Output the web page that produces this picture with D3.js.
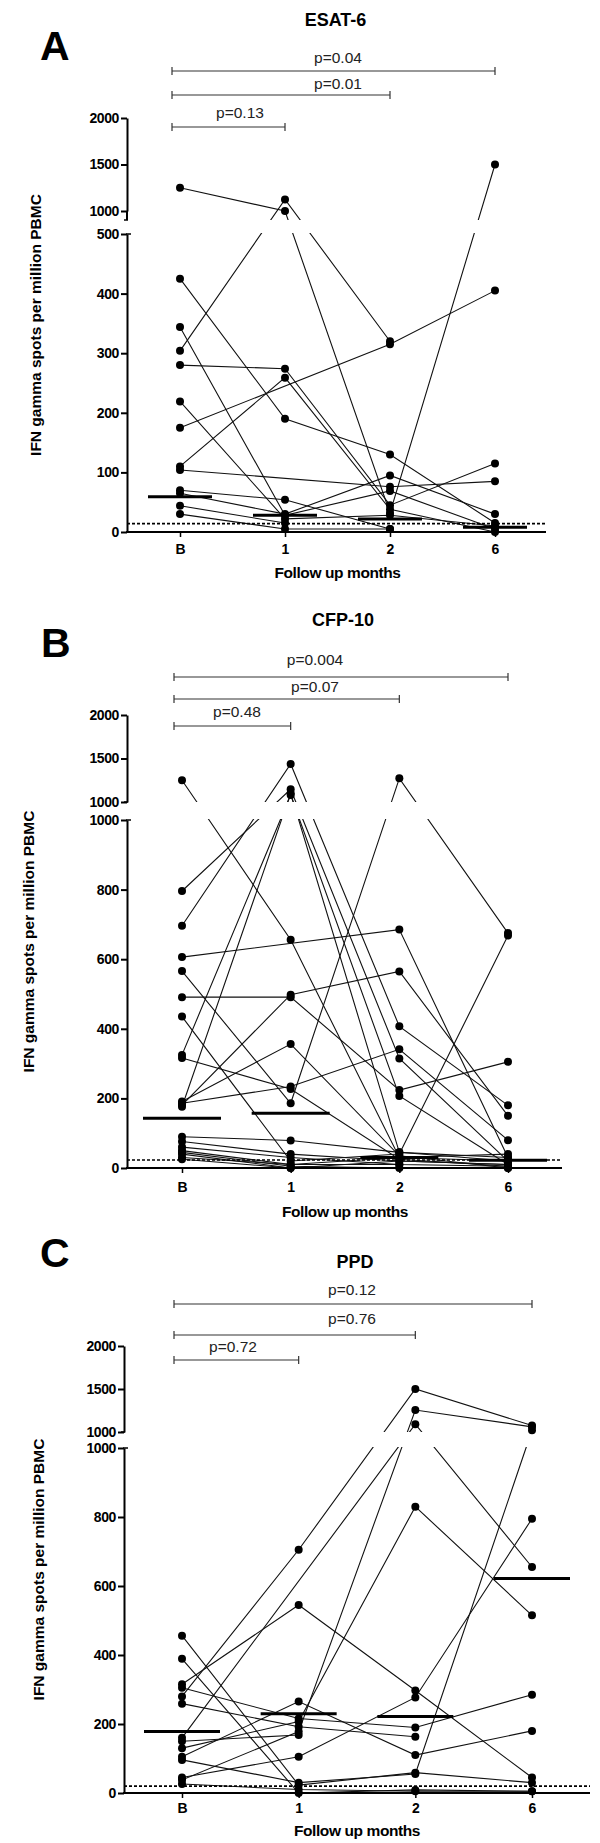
<!DOCTYPE html>
<html>
<head>
<meta charset="utf-8">
<script src="https://cdn.jsdelivr.net/npm/d3@7"></script>
<style>
body { margin: 0; background: #fff; }
svg text { font-family: "Liberation Sans", Arial, sans-serif; }
</style>
</head>
<body>
<svg id="fig" width="600" height="1843"></svg>
<script>
var months = ["B", "1", "2", "6"];
var topTicks = [1000, 1500, 2000];

// ESAT-6 : one row per subject, spots at B, 1, 2, 6 months (null = not done)
var esatRows = [
    [1250, 1000, 32, 1500],
    [304, 1125, 320, null],
    [425, 190, 130, 15],
    [344, 28, 69, 5],
    [280, 274, 45, 115],
    [219, 22, 28, 10],
    [175, null, 315, 405],
    [110, 259, 38, 0],
    [104, null, 76, 85],
    [70, 54, 5, null],
    [65, 30, 95, 30],
    [44, 15, null, null],
    [30, 5, 5, null]
];
var esatMedians = [59, 28, 22, 8];
var esatCutoff = 14;
var esatLowTicks = [0, 100, 200, 300, 400, 500];
var esatP = ["p=0.13", "p=0.01", "p=0.04"];

// CFP-10
var cfpRows = [
    [1250, 656, 30, 40],
    [796, 1146, 315, 20],
    [696, 1437, 407, 180],
    [606, null, 685, 30],
    [566, 186, 1272, 675],
    [491, 491, 224, 305],
    [435, 20, 40, 668],
    [325, 1080, 207, 10],
    [316, 227, 25, 5],
    [191, 356, 35, 0],
    [186, 234, 341, 80],
    [181, 498, 565, 150],
    [176, 1100, 45, 20],
    [90, 79, 45, 30],
    [76, 40, 20, 10],
    [60, 30, 10, 5],
    [50, 10, 30, 20],
    [45, 5, 0, 0],
    [40, 0, 20, 10],
    [30, 10, 10, null],
    [25, 0, null, null]
];
var cfpMedians = [143, 157, 30, 22];
var cfpCutoff = 23;
var cfpLowTicks = [0, 200, 400, 600, 800, 1000];
var cfpP = ["p=0.48", "p=0.07", "p=0.004"];

// PPD
var ppdRows = [
    [280, 705, 1500, 1075],
    [160, null, 1090, 655],
    [315, 545, 297, 45],
    [38, 178, 1256, 1060],
    [130, 207, 830, 515],
    [105, 265, 110, 180],
    [456, 23, 59, 30],
    [389, 0, 9, 5],
    [305, 216, 190, 285],
    [259, 192, 163, null],
    [150, 168, null, null],
    [96, 30, 55, 1020],
    [45, 105, 277, 795],
    [26, 10, 5, 5]
];
var ppdMedians = [178, 230, 222, 622];
var ppdCutoff = 20;
var ppdLowTicks = [0, 200, 400, 600, 800, 1000];
var ppdP = ["p=0.72", "p=0.76", "p=0.12"];

var panels = [
    {letter: "A", title: "ESAT-6", rows: esatRows, medians: esatMedians, cutoff: esatCutoff,
        lowTicks: esatLowTicks, pvals: esatP,
        axisX: 127, axisEnd: 546, catRange: [180, 495], y0: 532, yLowTop: 234,
        yTop1000: 211, yTop2000: 118, gapTop: 220, letterPos: [40, 60], titleY: 26,
        bracketY: [127, 95, 71], pTextY: [118, 89, 63], pTextX: [240, 338, 338],
        tickLabelY: 554, xTitleY: 578, yTitleX: 36, medHalf: 32},
    {letter: "B", title: "CFP-10", rows: cfpRows, medians: cfpMedians, cutoff: cfpCutoff,
        lowTicks: cfpLowTicks, pvals: cfpP,
        axisX: 127, axisEnd: 562, catRange: [182, 508], y0: 1168, yLowTop: 820,
        yTop1000: 802, yTop2000: 715, gapTop: 802, letterPos: [41, 657], titleY: 626,
        bracketY: [726, 699, 677], pTextY: [717, 692, 665], pTextX: [237, 315, 315],
        tickLabelY: 1192, xTitleY: 1217, yTitleX: 29, medHalf: 39},
    {letter: "C", title: "PPD", rows: ppdRows, medians: ppdMedians, cutoff: ppdCutoff,
        lowTicks: ppdLowTicks, pvals: ppdP,
        axisX: 124, axisEnd: 590, catRange: [182, 532], y0: 1793, yLowTop: 1448,
        yTop1000: 1432, yTop2000: 1346, gapTop: 1432, letterPos: [40, 1267], titleY: 1268,
        bracketY: [1360, 1335, 1304], pTextY: [1352, 1324, 1295], pTextX: [233, 352, 352],
        tickLabelY: 1813, xTitleY: 1836, yTitleX: 39, medHalf: 38}
];

var svg = d3.select("#fig");
var fmt = d3.format("d");

function drawPanel(p) {
    var g = svg.append("g");
    var lowMax = p.lowTicks[p.lowTicks.length - 1];

    var x = d3.scalePoint().domain(months).range(p.catRange);
    var yLow = d3.scaleLinear().domain([0, lowMax]).range([p.y0, p.yLowTop]);
    var yTop = d3.scaleLinear().domain([1000, 2000]).range([p.yTop1000, p.yTop2000]);
    var y = function (v) { return v > lowMax ? yTop(v) : yLow(v); };

    // subject lines (missing visits are skipped over)
    var line = d3.line().x(function (d) { return x(d.m); }).y(function (d) { return y(d.v); });
    p.rows.forEach(function (r) {
        var pts = [];
        r.forEach(function (v, i) { if (v !== null) pts.push({m: months[i], v: v}); });
        g.append("path").attr("d", line(pts))
            .attr("fill", "none").attr("stroke", "#111").attr("stroke-width", 1.1);
    });

    // axis break: blank the gap
    g.append("rect")
        .attr("x", p.axisX + 2).attr("y", p.gapTop)
        .attr("width", p.axisEnd - p.axisX + 20).attr("height", p.yLowTop - p.gapTop - 1)
        .attr("fill", "#fff");

    // points
    p.rows.forEach(function (r) {
        r.forEach(function (v, i) {
            if (v === null) return;
            g.append("circle").attr("cx", x(months[i])).attr("cy", y(v))
                .attr("r", 4).attr("fill", "#000");
        });
    });

    // cut-off
    g.append("line")
        .attr("x1", p.axisX).attr("x2", p.axisEnd)
        .attr("y1", yLow(p.cutoff)).attr("y2", yLow(p.cutoff))
        .attr("stroke", "#000").attr("stroke-width", 1.6).attr("stroke-dasharray", "3,2");

    // medians
    p.medians.forEach(function (m, i) {
        g.append("line")
            .attr("x1", x(months[i]) - p.medHalf).attr("x2", x(months[i]) + p.medHalf)
            .attr("y1", yLow(m)).attr("y2", yLow(m))
            .attr("stroke", "#000").attr("stroke-width", 3);
    });

    // y axes (two segments)
    var lowAxis = g.append("g").attr("transform", "translate(" + p.axisX + ",0)")
        .call(d3.axisLeft(yLow).tickValues(p.lowTicks).tickFormat(fmt)
            .tickSize(6).tickSizeOuter(0).tickPadding(2));
    var topAxis = g.append("g").attr("transform", "translate(" + p.axisX + ",0)")
        .call(d3.axisLeft(yTop).tickValues(topTicks).tickFormat(fmt)
            .tickSize(6).tickSizeOuter(0).tickPadding(2));
    [lowAxis, topAxis].forEach(function (a) {
        a.selectAll("path, line").attr("stroke", "#000").attr("stroke-width", 2);
        a.selectAll("text").attr("font-family", "Liberation Sans, Arial, sans-serif")
            .attr("font-size", 14).attr("font-weight", "bold").attr("fill", "#000")
            .attr("letter-spacing", -0.4);
    });
    g.append("line").attr("x1", p.axisX).attr("x2", p.axisX)
        .attr("y1", p.yTop1000).attr("y2", p.gapTop)
        .attr("stroke", "#000").attr("stroke-width", 2);
    g.append("line").attr("x1", p.axisX - 3).attr("x2", p.axisX + 1)
        .attr("y1", p.gapTop).attr("y2", p.gapTop)
        .attr("stroke", "#000").attr("stroke-width", 1.5);
    g.append("line").attr("x1", p.axisX - 1).attr("x2", p.axisX + 4)
        .attr("y1", p.yLowTop).attr("y2", p.yLowTop)
        .attr("stroke", "#000").attr("stroke-width", 1.5);

    // x axis
    g.append("line").attr("x1", p.axisX - 1).attr("x2", p.axisEnd)
        .attr("y1", p.y0).attr("y2", p.y0)
        .attr("stroke", "#000").attr("stroke-width", 2);
    var pad = p.tickLabelY - p.y0 - 5 - 0.71 * 14;
    var xAxis = g.append("g").attr("transform", "translate(0," + p.y0 + ")")
        .call(d3.axisBottom(x).tickSize(5).tickPadding(pad));
    xAxis.select(".domain").remove();
    xAxis.selectAll("line").attr("stroke", "#000").attr("stroke-width", 1.5);
    xAxis.selectAll("text").attr("font-family", "Liberation Sans, Arial, sans-serif")
        .attr("font-size", 14).attr("font-weight", "bold").attr("fill", "#000");

    var mid = (p.catRange[0] + p.catRange[1]) / 2;

    g.append("text").attr("x", mid).attr("y", p.xTitleY).attr("text-anchor", "middle")
        .attr("font-size", 15.5).attr("font-weight", "bold").attr("letter-spacing", -0.4)
        .text("Follow up months");

    var yMid = (p.y0 + p.yTop2000) / 2;
    g.append("text")
        .attr("transform", "translate(" + p.yTitleX + "," + yMid + ") rotate(-90)")
        .attr("text-anchor", "middle").attr("dy", "0.35em")
        .attr("font-size", 15.5).attr("font-weight", "bold")
        .text("IFN gamma spots per million PBMC");

    g.append("text").attr("x", mid - 2).attr("y", p.titleY).attr("text-anchor", "middle")
        .attr("font-size", 18).attr("font-weight", "bold").text(p.title);

    g.append("text").attr("x", p.letterPos[0]).attr("y", p.letterPos[1])
        .attr("font-size", 41).attr("font-weight", "bold").text(p.letter);

    // comparison brackets vs baseline
    ["1", "2", "6"].forEach(function (m, i) {
        var x1 = x("B") - 8, x2 = x(m), by = p.bracketY[i];
        var b = g.append("g").attr("stroke", "#333").attr("stroke-width", 1.2);
        b.append("line").attr("x1", x1).attr("x2", x2).attr("y1", by).attr("y2", by);
        b.append("line").attr("x1", x1).attr("x2", x1).attr("y1", by - 4).attr("y2", by + 4);
        b.append("line").attr("x1", x2).attr("x2", x2).attr("y1", by - 4).attr("y2", by + 4);
        g.append("text").attr("x", p.pTextX[i]).attr("y", p.pTextY[i])
            .attr("text-anchor", "middle").attr("font-size", 15.5).attr("fill", "#222")
            .text(p.pvals[i]);
    });
}

panels.forEach(drawPanel);
</script>
</body>
</html>
